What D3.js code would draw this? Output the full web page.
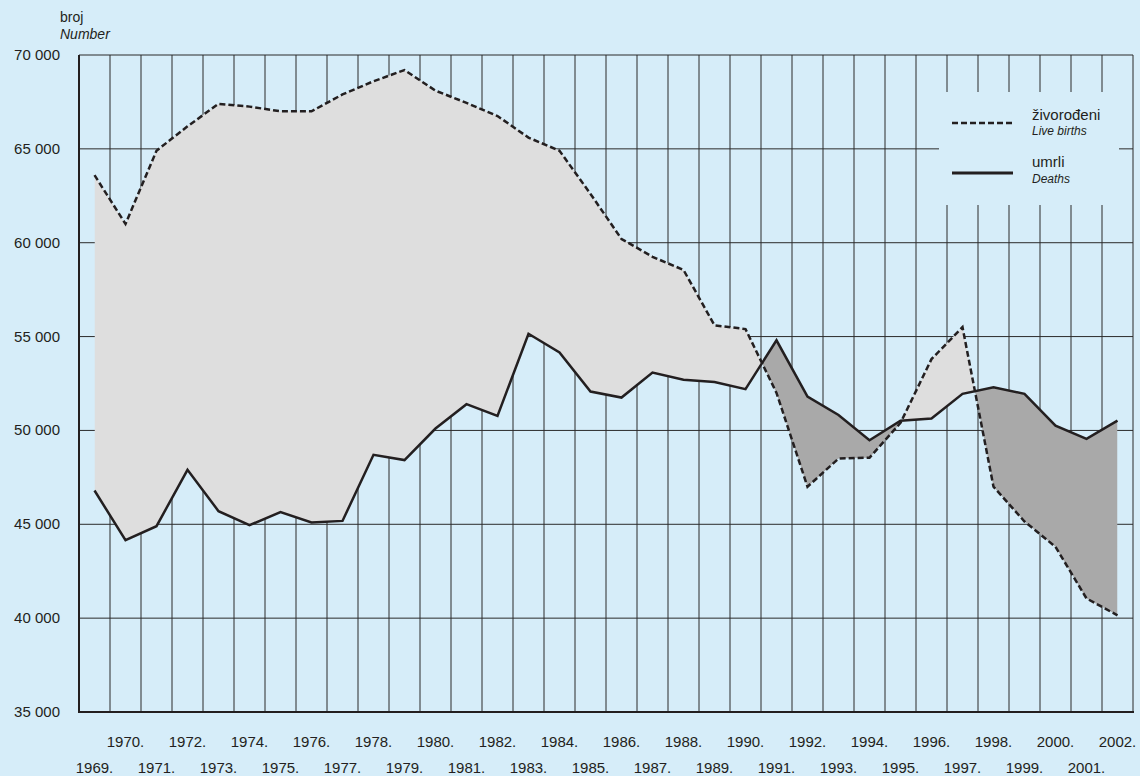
<!DOCTYPE html>
<html>
<head>
<meta charset="utf-8">
<script src="https://cdn.jsdelivr.net/npm/d3@7"></script>
<style>
  body { margin: 0; background: #d6edf9; }
  svg { display: block; font-family: "Liberation Sans", Arial, sans-serif; }
</style>
</head>
<body>
<div id="chart"></div>
<script>
// podaci
var years = d3.range(1969, 2003);
var births = [63600, 61000, 64900, 66200, 67400, 67250, 67000, 67000, 67900, 68600,
              69200, 68100, 67450, 66750, 65600, 64900, 62600, 60200, 59250, 58550,
              55600, 55400, 52000, 47000, 48500, 48550, 50400, 53800, 55500, 47000,
              45150, 43800, 41050, 40150];
var deaths = [46800, 44150, 44900, 47900, 45700, 44950, 45650, 45100, 45180, 48700,
              48420, 50100, 51400, 50770, 55150, 54150, 52070, 51750, 53080, 52700,
              52580, 52200, 54800, 51800, 50820, 49480, 50520, 50640, 51950, 52300,
              51950, 50250, 49550, 50520];
var yTicks = [35000, 40000, 45000, 50000, 55000, 60000, 65000, 70000];

var W = 1140, H = 776;
var mLeft = 79, mRight = 1133, mTop = 55, mBottom = 712;

var svg = d3.select("#chart").append("svg")
  .attr("width", W).attr("height", H);

svg.append("rect").attr("width", W).attr("height", H).attr("fill", "#d6edf9");

var x = d3.scaleBand().domain(years).range([mLeft, mRight]).padding(0);
var y = d3.scaleLinear().domain([35000, 70000]).range([mBottom, mTop]);
var cx = function(yr) { return x(yr) + x.bandwidth() / 2; };

var fmt = d3.formatLocale({ decimal: ",", thousands: " ", grouping: [3], currency: ["", ""] }).format(",d");

var data = years.map(function(yr, i) { return { year: yr, b: births[i], d: deaths[i] }; });

// mreza
var grid = svg.append("g");
grid.selectAll(".vl")
  .data(years.concat([null]))
  .enter().append("line")
  .attr("x1", function(d) { return d === null ? mRight : x(d); })
  .attr("x2", function(d) { return d === null ? mRight : x(d); })
  .attr("y1", mTop).attr("y2", mBottom)
  .attr("stroke", "#2b2b2b").attr("stroke-width", 1);
grid.selectAll(".hl")
  .data(yTicks)
  .enter().append("line")
  .attr("x1", mLeft).attr("x2", mRight)
  .attr("y1", function(d) { return y(d); })
  .attr("y2", function(d) { return y(d); })
  .attr("stroke", "#2b2b2b").attr("stroke-width", 1);

// povrsine izmedju linija
var defs = svg.append("defs");
defs.append("clipPath").attr("id", "aboveDeaths")
  .append("path")
  .attr("d", d3.area().x(function(d) { return cx(d.year); }).y0(0).y1(function(d) { return y(d.d); })(data));
defs.append("clipPath").attr("id", "aboveBirths")
  .append("path")
  .attr("d", d3.area().x(function(d) { return cx(d.year); }).y0(0).y1(function(d) { return y(d.b); })(data));

svg.append("path")
  .attr("clip-path", "url(#aboveDeaths)")
  .attr("fill", "#dedede")
  .attr("d", d3.area().x(function(d) { return cx(d.year); }).y0(mBottom).y1(function(d) { return y(d.b); })(data));
svg.append("path")
  .attr("clip-path", "url(#aboveBirths)")
  .attr("fill", "#a9a9a9")
  .attr("d", d3.area().x(function(d) { return cx(d.year); }).y0(mBottom).y1(function(d) { return y(d.d); })(data));

// osi
svg.append("line").attr("x1", mLeft).attr("x2", mLeft).attr("y1", mTop).attr("y2", mBottom + 1)
  .attr("stroke", "#231f20").attr("stroke-width", 2);
svg.append("line").attr("x1", mLeft - 1).attr("x2", mRight + 1).attr("y1", mBottom).attr("y2", mBottom)
  .attr("stroke", "#231f20").attr("stroke-width", 2);

// linije
var line = d3.line().x(function(d) { return cx(d.year); });
svg.append("path")
  .attr("d", line.y(function(d) { return y(d.d); })(data))
  .attr("fill", "none").attr("stroke", "#231f20").attr("stroke-width", 2.5)
  .attr("stroke-linejoin", "miter");
svg.append("path")
  .attr("d", line.y(function(d) { return y(d.b); })(data))
  .attr("fill", "none").attr("stroke", "#231f20").attr("stroke-width", 2.5)
  .attr("stroke-dasharray", "6,3");

// oznake y
svg.selectAll(".yt")
  .data(yTicks)
  .enter().append("text")
  .attr("x", 60).attr("y", function(d) { return y(d) + 5; })
  .attr("text-anchor", "end")
  .style("font-size", "15px").attr("fill", "#231f20")
  .text(function(d) { return fmt(d); });

svg.append("text").attr("x", 60).attr("y", 22).style("font-size", "14px").attr("fill", "#231f20").text("broj");
svg.append("text").attr("x", 60).attr("y", 39).style("font-size", "14px").style("font-style", "italic")
  .attr("fill", "#231f20").text("Number");

// oznake x
svg.selectAll(".xt")
  .data(years)
  .enter().append("text")
  .attr("x", function(d) { return cx(d); })
  .attr("y", function(d) { return d % 2 === 0 ? 747 : 773; })
  .attr("text-anchor", "middle")
  .style("font-size", "15px").attr("fill", "#231f20")
  .text(function(d) { return d + "."; });

// legenda
var lg = svg.append("g");
lg.append("rect").attr("x", 939).attr("y", 92).attr("width", 180).attr("height", 113).attr("fill", "#d6edf9");
lg.append("line").attr("x1", 952).attr("x2", 1013).attr("y1", 123).attr("y2", 123)
  .attr("stroke", "#231f20").attr("stroke-width", 2.5).attr("stroke-dasharray", "6,3");
lg.append("line").attr("x1", 952).attr("x2", 1013).attr("y1", 173).attr("y2", 173)
  .attr("stroke", "#231f20").attr("stroke-width", 3);
lg.append("text").attr("x", 1032).attr("y", 120).style("font-size", "15px").attr("fill", "#231f20").text("živorođeni");
lg.append("text").attr("x", 1032).attr("y", 135).style("font-size", "12px").style("font-style", "italic")
  .attr("fill", "#231f20").text("Live births");
lg.append("text").attr("x", 1032).attr("y", 167).style("font-size", "15px").attr("fill", "#231f20").text("umrli");
lg.append("text").attr("x", 1032).attr("y", 183).style("font-size", "12px").style("font-style", "italic")
  .attr("fill", "#231f20").text("Deaths");
</script>
</body>
</html>
